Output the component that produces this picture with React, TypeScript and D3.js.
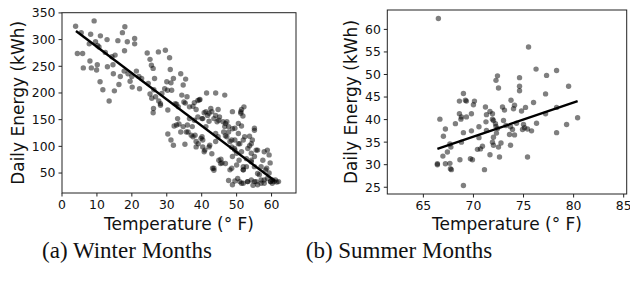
import React from 'react';
import * as d3 from 'd3';

// winter: [temperature °F, daily energy kWh]
const winterPoints: [number, number][] = [
  [3.9, 325], [9.2, 335], [18, 324], [5.5, 313], [8.2, 310], [11, 307], [17.3, 313], [12.9, 300],
  [16, 298], [18.7, 296], [20.8, 302], [20.8, 292], [7.8, 292], [9.6, 296], [10.2, 289], [10.6, 286],
  [12.4, 276], [17.9, 279], [4.4, 274], [5.9, 274], [14.3, 268], [15.2, 271], [8, 260], [10.1, 253],
  [6.1, 247], [8.4, 247], [9.9, 243], [13, 249], [14.6, 253], [14.7, 236], [16.7, 231], [17.8, 241],
  [18.9, 236], [20, 231], [21.3, 241], [22, 231], [22.8, 227], [10.9, 221], [19.5, 222], [11.7, 206],
  [15, 204], [20.1, 211], [22.2, 208], [16.3, 216], [13.5, 185], [24.4, 275], [25.2, 263], [25.6, 252],
  [26.1, 246], [27.6, 277], [29.6, 280], [26.5, 227], [24.7, 218], [26.3, 206], [25.2, 198], [26.8, 193],
  [25.7, 190], [26.2, 171], [26.1, 163], [27.7, 185], [28.6, 199], [28.2, 180], [29.4, 208], [30, 221],
  [30.8, 266], [31, 244], [31.2, 219], [30.2, 205], [31.4, 205], [31.9, 227], [30.3, 168], [30.3, 123],
  [31.2, 112], [31.9, 102], [32.1, 138], [33.1, 152], [32.8, 179], [34, 236], [35.4, 226], [34.7, 215],
  [34.3, 196], [34.9, 183], [35.3, 181], [35.8, 193], [36.5, 174], [33.5, 142], [34, 127], [34.7, 137],
  [35.6, 127], [35.9, 140], [35.2, 104], [37.3, 137], [37.5, 175], [38.4, 169], [38.9, 186], [39.5, 188],
  [40.1, 152], [40.7, 163], [38.1, 121], [38.4, 99], [39, 105], [40.1, 118], [40.3, 112], [41.2, 137],
  [41.7, 158], [41.4, 200], [40.9, 93], [42.9, 165], [44, 200], [44, 158], [42.1, 147], [44.7, 169],
  [45.1, 155], [46.6, 196], [46.1, 146], [47.2, 146], [44, 124], [44.7, 118], [44, 109], [42.3, 102],
  [42.9, 86], [43.1, 59], [43.5, 55], [45.5, 76], [45.8, 69], [46.6, 137], [47.7, 127], [46.8, 68],
  [46.8, 120], [48.8, 133], [48.6, 112], [49.5, 112], [48.8, 165], [49.4, 96], [50.5, 105], [50, 87],
  [51.4, 138], [51.2, 165], [51.4, 169], [52.1, 174], [51.8, 157], [50.7, 74], [48.1, 56], [47.7, 36],
  [48.8, 28], [50.3, 40], [51.4, 31], [51.9, 56], [52.8, 62], [53.1, 34], [53.7, 101], [54.2, 74],
  [54.5, 112], [54.2, 87], [55.1, 62], [54.7, 27], [55.6, 34], [56, 28], [57, 37], [57.9, 31],
  [55.1, 134], [56, 93], [56.5, 47], [57.5, 74], [58.6, 59], [59.3, 50], [59.7, 34], [60.2, 31],
  [58.8, 93], [59.3, 84], [59.6, 69], [60.7, 34], [61.1, 37], [53.7, 119],
  [32.8, 140], [36.1, 127], [37, 121], [36.5, 152], [37.9, 149], [38.9, 155], [40.3, 152], [37.5, 118],
  [38.4, 109], [39.8, 115], [40.3, 99], [41.2, 165], [42.1, 162], [42.6, 171], [44.4, 146], [43.5, 152],
  [44.9, 149], [40.7, 90], [42.1, 99], [46.8, 143], [47.7, 137], [50.5, 143], [46.3, 127], [47.2, 118],
  [48.1, 109], [48.6, 99], [49.5, 93], [48.8, 81], [43.5, 59], [44.9, 74], [45.4, 68], [50, 65],
  [51.9, 62], [52.8, 77], [54.2, 71], [55.1, 81], [55.6, 93], [55.1, 130], [56, 49], [49.5, 35],
  [50.9, 34], [51.9, 31], [53.2, 34], [54.2, 37], [55.1, 34], [57, 31], [57.9, 37], [58.8, 40],
  [59.7, 34], [60.2, 37], [48.6, 59], [51.9, 56], [57, 62], [58.3, 56], [57.9, 90], [52.3, 118],
  [50.9, 105], [51.4, 90], [53.2, 96], [54.2, 105], [51.9, 112], [50.5, 124], [49.5, 134], [28.2, 177],
  [32.4, 180], [33.3, 174], [37.9, 182], [39.3, 187], [51.2, 162], [61.5, 33], [62, 34],
];

const summerPoints: [number, number][] = [
  [66.5, 62.4], [75.5, 56.1], [76.25, 51.2], [77.3, 49.8], [78.3, 50.9], [79.5, 47.4], [72.4, 49.7],
  [72.25, 48.7], [72.5, 47.0], [74.6, 49.3], [74.6, 47.4], [74.6, 46.4], [69, 45.8], [68.6, 44.1],
  [69.2, 44.3], [69.3, 44.1], [70, 43.3], [70.1, 44.1], [71.2, 42.8], [72.9, 42.8], [73.1, 42.1],
  [73.75, 44.3], [74.1, 43.2], [74, 42.4], [74.8, 41.9], [75.2, 42.7], [76, 43.8], [77.2, 45.7],
  [77.2, 41.3], [78.3, 42.7], [78.3, 37.1], [79.3, 38.9], [80.4, 40.4], [66.65, 40.1], [68.6, 41.3],
  [68.8, 40.6], [68.2, 39.1], [68.75, 40.1], [69.3, 40.6], [69.8, 41.3], [70.55, 38.4], [71.25, 39.5],
  [71.3, 41.1], [71.65, 41.8], [71.9, 41.3], [71.9, 40.1], [72, 39.8], [72.2, 39.1], [72.25, 38.5],
  [72.4, 38.0], [73, 39.8], [73.7, 38.4], [73.9, 37.8], [74.3, 39.2], [74.9, 37.8], [75.1, 38.2],
  [75.4, 37.9], [75.8, 37.5], [76.3, 39.2], [67.2, 37.9], [67, 36.3], [67.65, 34.6], [67.75, 33.9],
  [67.4, 32.8], [66.95, 31.9], [66.4, 30.2], [66.4, 30.0], [67.2, 30.2], [67.65, 30.3], [67.7, 29.1],
  [67.8, 28.9], [68.65, 31.1], [68.8, 35.0], [69, 37.1], [69.8, 37.5], [70.55, 36], [70.9, 34.1],
  [70.7, 33.5], [70.4, 33.4], [69.7, 31.3], [69.9, 31.1], [71.1, 28.9], [69, 25.4], [71.65, 32.2],
  [71.9, 35.0], [72, 34.3], [72, 36.1], [72.3, 37.0], [72.5, 33.9], [72.6, 31.7], [72.75, 34.8],
  [73.6, 36.7], [73.7, 34.3], [74.1, 36.6], [75.4, 31.7], [75, 38.9], [73.25, 38.7], [71.3, 37.6],
];

// least-squares lines, endpoints
const winterFit: [number, number][] = [[4, 316], [61, 35]];
const summerFit: [number, number][] = [[66.4, 33.5], [80.4, 44.1]];

const winterXTicks = [0, 10, 20, 30, 40, 50, 60];
const winterYTicks = [50, 100, 150, 200, 250, 300, 350];
const summerXTicks = [65, 70, 75, 80, 85];
const summerYTicks = [25, 30, 35, 40, 45, 50, 55, 60];

const captions = ['(a) Winter Months', '(b) Summer Months'];

const FONT = 'DejaVu Sans';

type PanelProps = {
  points: [number, number][];
  fit: [number, number][];
  xDomain: [number, number];
  yDomain: [number, number];
  box: { left: number; right: number; top: number; bottom: number };
  xTicks: number[];
  yTicks: number[];
  yLabelX: number;
};

const Panel = ({ points, fit, xDomain, yDomain, box, xTicks, yTicks, yLabelX }: PanelProps) => {
  const x = d3.scaleLinear().domain(xDomain).range([box.left, box.right]);
  const y = d3.scaleLinear().domain(yDomain).range([box.bottom, box.top]);
  const line = d3.line<[number, number]>().x(d => x(d[0])).y(d => y(d[1]));
  const midY = (box.top + box.bottom) / 2;

  return (
    <g>
      {points.map((p, i) => (
        <circle key={i} cx={x(p[0])} cy={y(p[1])} r={2.7} fill="#000" fillOpacity={0.5} />
      ))}
      <path d={line(fit) || ''} stroke="#000" strokeWidth={2.4} fill="none" />
      <rect x={box.left} y={box.top} width={box.right - box.left} height={box.bottom - box.top}
        fill="none" stroke="#222" strokeWidth={1} />
      {xTicks.map(t => (
        <g key={t}>
          <line x1={x(t)} x2={x(t)} y1={box.bottom} y2={box.bottom + 3.5} stroke="#222" />
          <text x={x(t)} y={box.bottom + 15.5} fontSize={12.4} fontFamily={FONT} textAnchor="middle"
            fill="#111">{t}</text>
        </g>
      ))}
      {yTicks.map(t => (
        <g key={t}>
          <line x1={box.left - 3.5} x2={box.left} y1={y(t)} y2={y(t)} stroke="#222" />
          <text x={box.left - 6.5} y={y(t) + 4.4} fontSize={12.4} fontFamily={FONT} textAnchor="end"
            fill="#111">{t}</text>
        </g>
      ))}
      <text x={(box.left + box.right) / 2} y={230} fontSize={17} fontFamily={FONT} textAnchor="middle"
        fill="#111">Temperature (° F)</text>
      <text transform={`translate(${yLabelX},${midY}) rotate(-90)`} fontSize={17} fontFamily={FONT}
        textAnchor="middle" dominantBaseline="central" fill="#111">Daily Energy (kWh)</text>
    </g>
  );
};

export default function App() {
  return (
    <div>
      <style>{'body{margin:0}'}</style>
      <svg width={630} height={285} style={{ display: 'block', background: '#fff' }}>
        <Panel points={winterPoints} fit={winterFit} xDomain={[0, 67]} yDomain={[12.6, 350.4]}
          box={{ left: 62, right: 296, top: 12.7, bottom: 193 }}
          xTicks={winterXTicks} yTicks={winterYTicks} yLabelX={17.5} />
        <Panel points={summerPoints} fit={summerFit} xDomain={[61.4, 85.3]} yDomain={[23.5, 64.3]}
          box={{ left: 387.3, right: 626.7, top: 10, bottom: 194 }}
          xTicks={summerXTicks} yTicks={summerYTicks} yLabelX={351} />
        <text x={127} y={258} fontSize={23} fontFamily="Liberation Serif" textAnchor="middle"
          fill="#111">{captions[0]}</text>
        <text x={399} y={258} fontSize={23} fontFamily="Liberation Serif" textAnchor="middle"
          fill="#111">{captions[1]}</text>
      </svg>
    </div>
  );
}
